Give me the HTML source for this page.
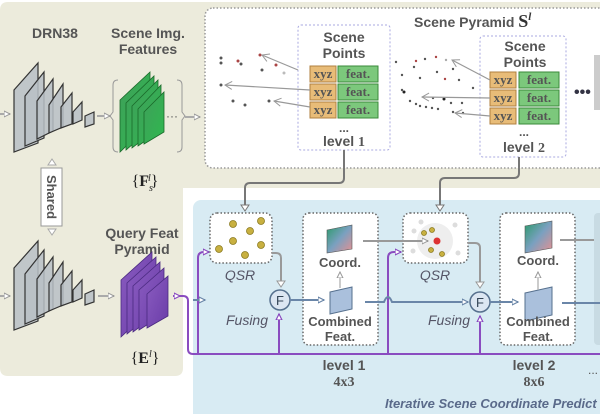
<!DOCTYPE html>
<html><head><meta charset="utf-8"><style>
body{margin:0;background:#fff;}
svg{display:block;font-family:"Liberation Sans",sans-serif;}
.b{font-weight:bold;fill:#555;}
</style></head><body>
<svg width="600" height="414" viewBox="0 0 600 414" xmlns="http://www.w3.org/2000/svg">
<defs>
<linearGradient id="g1" x1="0" y1="0" x2="1" y2="1"><stop offset="0" stop-color="#3f9f5a"/><stop offset="1" stop-color="#2fb84f"/></linearGradient>
<linearGradient id="p1" x1="0" y1="0" x2="1" y2="1"><stop offset="0" stop-color="#8a5cc0"/><stop offset="1" stop-color="#6a3ca8"/></linearGradient>
<linearGradient id="rb" x1="0" y1="0" x2="1" y2="1"><stop offset="0" stop-color="#2a9a6a"/><stop offset="0.5" stop-color="#7aa0c0"/><stop offset="1" stop-color="#e89090"/></linearGradient>
<marker id="ag" markerUnits="userSpaceOnUse" markerWidth="8" markerHeight="8" refX="6" refY="4" orient="auto"><path d="M0,1 L6,4 L0,7 Z" fill="#fff" stroke="#999"/></marker>
<marker id="ap" markerUnits="userSpaceOnUse" markerWidth="8" markerHeight="8" refX="6" refY="4" orient="auto"><path d="M0,1 L6,4 L0,7 Z" fill="#fff" stroke="#8a4cc0" stroke-width="1.2"/></marker>
<marker id="ab" markerUnits="userSpaceOnUse" markerWidth="8" markerHeight="8" refX="6" refY="4" orient="auto"><path d="M0,1 L6,4 L0,7 Z" fill="#fff" stroke="#6a86a8" stroke-width="1.2"/></marker>
<marker id="al" markerUnits="userSpaceOnUse" markerWidth="10" markerHeight="10" refX="8" refY="5" orient="auto"><path d="M1,1 L8,5 L1,9" fill="none" stroke="#999"/></marker>
</defs>
<path d="M8,2 H600 V188 H183 V368 Q183,376 175,376 H8 Q0,376 0,368 V10 Q0,2 8,2 Z" fill="#ecebdc"/>
<rect x="193" y="200" width="420" height="230" rx="8" fill="#d8ebf3"/>
<rect x="205" y="8" width="405" height="160" rx="8" fill="#fff" stroke="#999" stroke-width="1.5" stroke-dasharray="1.5 2"/>
<text x="414" y="27" font-size="14" font-weight="bold" fill="#555">Scene Pyramid <tspan font-family="Liberation Serif" font-size="18" fill="#333">S</tspan><tspan font-family="Liberation Serif" font-style="italic" font-size="11" dy="-7" fill="#333">l</tspan></text>
<rect x="298" y="25" width="92" height="125" rx="3" fill="#fff" stroke="#a9a9e0" stroke-dasharray="2 2"/>
<rect x="480" y="36" width="86" height="121" rx="3" fill="#fff" stroke="#a9a9e0" stroke-dasharray="2 2"/>
<g font-size="14" class="b" text-anchor="middle">
<text x="344" y="42" class="b">Scene</text><text x="344" y="58" class="b">Points</text>
<text x="525" y="51" class="b">Scene</text><text x="525" y="67" class="b">Points</text>
<text x="344" y="132" font-size="12">...</text><text x="344" y="146" class="b">level <tspan font-family="Liberation Serif">1</tspan></text>
<text x="524" y="136" font-size="12">...</text><text x="524" y="152" class="b">level <tspan font-family="Liberation Serif">2</tspan></text>
</g>
<g font-family="Liberation Serif" font-weight="bold" font-size="13" fill="#555" text-anchor="middle">
<rect x="310" y="66" width="26" height="16" fill="#e8bc78" stroke="#b08040"/><rect x="338" y="66" width="40" height="16" fill="#7cc87c" stroke="#3a8a3a"/>
<rect x="310" y="84" width="26" height="16" fill="#e8bc78" stroke="#b08040"/><rect x="338" y="84" width="40" height="16" fill="#7cc87c" stroke="#3a8a3a"/>
<rect x="310" y="102" width="26" height="16" fill="#e8bc78" stroke="#b08040"/><rect x="338" y="102" width="40" height="16" fill="#7cc87c" stroke="#3a8a3a"/>
<text x="323" y="78">xyz</text><text x="358" y="78">feat.</text>
<text x="323" y="96">xyz</text><text x="358" y="96">feat.</text>
<text x="323" y="114">xyz</text><text x="358" y="114">feat.</text>
<rect x="490" y="72" width="26" height="16" fill="#e8bc78" stroke="#b08040"/><rect x="519" y="72" width="40" height="16" fill="#7cc87c" stroke="#3a8a3a"/>
<rect x="490" y="90" width="26" height="16" fill="#e8bc78" stroke="#b08040"/><rect x="519" y="90" width="40" height="16" fill="#7cc87c" stroke="#3a8a3a"/>
<rect x="490" y="108" width="26" height="16" fill="#e8bc78" stroke="#b08040"/><rect x="519" y="108" width="40" height="16" fill="#7cc87c" stroke="#3a8a3a"/>
<text x="503" y="84">xyz</text><text x="539" y="84">feat.</text>
<text x="503" y="102">xyz</text><text x="539" y="102">feat.</text>
<text x="503" y="120">xyz</text><text x="539" y="120">feat.</text>
</g>
<text x="574" y="97" font-size="16" font-weight="bold" fill="#334">•••</text>
<rect x="594" y="55" width="6" height="55" fill="#ccc"/>
<g fill="#555">
<circle cx="221" cy="58" r="1.5"/><circle cx="221" cy="63" r="1.5"/><circle cx="238" cy="61" r="1.5" fill="#a44"/><circle cx="241" cy="64" r="1.5"/><circle cx="260" cy="55" r="1.5" fill="#a44"/><circle cx="262" cy="70" r="1.5"/><circle cx="276" cy="65" r="1.5" fill="#a44"/><circle cx="284" cy="73" r="1.5" fill="#bbb"/><circle cx="221" cy="85" r="1.5"/><circle cx="233" cy="101" r="1.5"/><circle cx="245" cy="105" r="1.5"/><circle cx="269" cy="101" r="1.5"/>
<circle cx="396" cy="62" r="1.2"/><circle cx="416" cy="61" r="1.2" fill="#a44"/><circle cx="425" cy="59" r="1.2"/><circle cx="436" cy="57" r="1.2" fill="#a44"/><circle cx="446" cy="60" r="1.2" fill="#aaa"/><circle cx="414" cy="67" r="1.2"/><circle cx="437" cy="72" r="1.2"/><circle cx="453" cy="69" r="1.2"/><circle cx="402" cy="75" r="1.2"/><circle cx="420" cy="78" r="1.2"/><circle cx="445" cy="79" r="1.2" fill="#a44"/><circle cx="459" cy="80" r="1.2"/><circle cx="402" cy="90" r="1.2"/><circle cx="404" cy="92" r="1.5" fill="#222"/><circle cx="473" cy="88" r="1.2"/><circle cx="410" cy="101" r="1.2"/><circle cx="416" cy="104" r="1.2"/><circle cx="420" cy="106" r="1.2"/><circle cx="426" cy="107" r="1.2"/><circle cx="432" cy="108" r="1.2"/><circle cx="438" cy="109" r="1.2"/><circle cx="444" cy="99" r="1.5" fill="#222"/><circle cx="451" cy="103" r="1.2"/><circle cx="462" cy="103" r="1.2"/><circle cx="433" cy="98" r="1.2"/><circle cx="453" cy="112" r="1.2"/><circle cx="463" cy="113" r="1.2"/>
</g>
<g stroke="#999" stroke-width="1.2" fill="none" marker-end="url(#al)">
<line x1="298" y1="70" x2="262" y2="55"/><line x1="310" y1="90" x2="225" y2="85"/><line x1="310" y1="107" x2="274" y2="101"/>
<line x1="490" y1="80" x2="452" y2="60"/><line x1="490" y1="98" x2="422" y2="97"/><line x1="490" y1="116" x2="455" y2="113"/>
</g>
<g stroke="#777" stroke-width="2" fill="none">
<path d="M344,150 V178 Q344,183 339,183 H250 Q245,183 245,188 V205"/>
<path d="M519,157 V173 Q519,178 514,178 H445 Q440,178 440,183 V205"/>
</g>
<path d="M241,205 L249,205 L245,211 Z" fill="#fff" stroke="#777"/>
<path d="M436,205 L444,205 L440,211 Z" fill="#fff" stroke="#777"/>
<g font-size="14" class="b" text-anchor="middle">
<text x="55" y="38">DRN38</text>
<text x="148" y="38">Scene Img.</text><text x="148" y="54">Features</text>
<text x="142" y="238">Query Feat</text><text x="142" y="254">Pyramid</text>
</g>
<text x="145" y="186" font-family="Liberation Serif" font-size="16" text-anchor="middle" fill="#222">{<tspan font-weight="bold">F</tspan><tspan font-size="10" font-style="italic" dy="5">s</tspan><tspan font-size="10" font-style="italic" dy="-10" dx="-5">l</tspan><tspan dy="5">}</tspan></text>
<text x="145" y="363" font-family="Liberation Serif" font-size="16" text-anchor="middle" fill="#222">{<tspan font-weight="bold">E</tspan><tspan font-size="10" font-style="italic" dy="-6">l</tspan><tspan dy="6">}</tspan></text>
<g stroke="#333" stroke-width="1.2" fill="#b8c0c6" fill-opacity="0.85">
<polygon points="14,90 38,63 38,143 14,152"/><polygon points="25,96 44,72 44,138 25,146"/><polygon points="37,101 53,79 53,131 37,139"/><polygon points="49,105 63,84 63,127 49,133"/><polygon points="61,107 72,93 72,124 61,128"/><polygon points="73,112 82,102 82,120 73,124"/><polygon points="85,116 94,112 94,124 85,127"/>
</g>
<g stroke="#333" stroke-width="1.2" fill="#b8c0c6" fill-opacity="0.85">
<polygon points="14,268 38,241 38,321 14,330"/><polygon points="25,274 44,250 44,316 25,324"/><polygon points="37,279 53,257 53,309 37,317"/><polygon points="49,283 63,262 63,305 49,311"/><polygon points="61,285 72,271 72,302 61,306"/><polygon points="73,290 82,280 82,298 73,302"/><polygon points="85,294 94,290 94,302 85,305"/>
</g>
<g stroke="#1a6a2a" stroke-width="0.8" fill="url(#g1)">
<polygon points="120,100 150,72 150,123 120,152"/><polygon points="126,103 154,76 154,126 126,150"/><polygon points="132,106 158,80 158,128 132,148"/><polygon points="138,109 161,85 161,130 138,146"/><polygon points="144,112 164,92 164,132 144,144"/>
</g>
<path d="M118,80 Q113,80 113,85 V112 L110,116 L113,120 V147 Q113,152 118,152" fill="none" stroke="#999"/>
<path d="M177,80 Q182,80 182,85 V112 L185,116 L182,120 V147 Q182,152 177,152" fill="none" stroke="#999"/>
<text x="166" y="120" font-size="12" fill="#555">···</text>
<g stroke="#4a2a80" stroke-width="0.8" fill="url(#p1)">
<polygon points="121,280 152,252 152,308 121,337"/><polygon points="127,283 156,257 156,310 127,334"/><polygon points="133,286 160,262 160,312 133,332"/><polygon points="139,290 164,268 164,314 139,330"/><polygon points="147,294 168,276 168,316 147,328"/>
</g>
<g stroke="#aaa" stroke-width="2" fill="none" marker-end="url(#ag)">
<line x1="0" y1="114" x2="10" y2="114"/><line x1="97" y1="116" x2="110" y2="116"/><line x1="185" y1="117" x2="200" y2="117"/>
<line x1="0" y1="296" x2="10" y2="296"/><line x1="98" y1="296" x2="114" y2="296"/>
</g>
<path d="M48,165 L56,165 L52,159 Z" fill="#fff" stroke="#aaa"/>
<path d="M48,229 L56,229 L52,235 Z" fill="#fff" stroke="#aaa"/>
<rect x="41" y="168" width="21" height="58" fill="#fff" stroke="#999"/>
<text transform="translate(47,197) rotate(90)" font-size="13" font-weight="bold" fill="#555" text-anchor="middle">Shared</text>
<g stroke="#8a4cc0" stroke-width="2" fill="none">
<path d="M173,296 H183 Q188,296 188,301 V349 Q188,354 193,354 H600"/>
<path d="M198,354 V258 Q198,252 204,252 H209" marker-end="url(#ap)"/>
<path d="M279,354 V314" marker-end="url(#ap)"/>
<path d="M388,354 V258 Q388,252 394,252 H401" marker-end="url(#ap)"/>
<path d="M480,354 V316" marker-end="url(#ap)"/>
<path d="M173,296 L180,296" marker-end="url(#ap)"/>
</g>
<rect x="210" y="213" width="62" height="50" rx="7" fill="#fff" stroke="#666" stroke-width="1.5" stroke-dasharray="1.5 2"/>
<g fill="#c8b040" stroke="#8a7a20" stroke-width="0.8">
<circle cx="233" cy="224" r="3.5"/><circle cx="261" cy="221" r="3.5"/><circle cx="250" cy="231" r="3.5"/><circle cx="233" cy="241" r="3.5"/><circle cx="261" cy="245" r="3.5"/><circle cx="219" cy="249" r="3.5"/><circle cx="245" cy="255" r="3.5"/>
</g>
<text x="240" y="280" font-size="14" font-style="italic" fill="#556" text-anchor="middle">QSR</text>
<path d="M272,253 H276 Q281,253 281,258 V281" stroke="#999" stroke-width="2" fill="none"/>
<path d="M277,281 L285,281 L281,287 Z" fill="#fff" stroke="#999"/>
<circle cx="280" cy="300" r="10" fill="#dce6f2" stroke="#56708e" stroke-width="1.5"/>
<text x="280" y="305" font-size="13" fill="#345" text-anchor="middle">F</text>
<text x="247" y="325" font-size="14" font-style="italic" fill="#556" text-anchor="middle">Fusing</text>
<rect x="403" y="213" width="65" height="50" rx="7" fill="#fff" stroke="#666" stroke-width="1.5" stroke-dasharray="1.5 2"/>
<circle cx="435" cy="241" r="18" fill="#eee"/>
<g fill="#ddd"><circle cx="414" cy="231" r="2.5"/><circle cx="413" cy="251" r="2.5"/><circle cx="458" cy="253" r="2.5"/><circle cx="421" cy="222" r="2.5"/><circle cx="455" cy="225" r="2.5"/></g>
<g fill="#c8b040" stroke="#8a7a20" stroke-width="0.8"><circle cx="424" cy="233" r="2.5"/><circle cx="432" cy="230" r="2.5"/><circle cx="431" cy="250" r="2.5"/><circle cx="442" cy="254" r="2.5"/></g>
<circle cx="437" cy="241" r="3.5" fill="#d33"/>
<text x="435" y="280" font-size="14" font-style="italic" fill="#556" text-anchor="middle">QSR</text>
<path d="M468,243 H475 Q480,243 480,248 V282" stroke="#999" stroke-width="2" fill="none"/>
<path d="M476,282 L484,282 L480,288 Z" fill="#fff" stroke="#999"/>
<circle cx="480" cy="302" r="10" fill="#dce6f2" stroke="#56708e" stroke-width="1.5"/>
<text x="480" y="307" font-size="13" fill="#345" text-anchor="middle">F</text>
<text x="449" y="325" font-size="14" font-style="italic" fill="#556" text-anchor="middle">Fusing</text>
<rect x="303" y="213" width="75" height="132" rx="6" fill="#fff" stroke="#666" stroke-width="1.5" stroke-dasharray="1.5 2"/>
<rect x="500" y="213" width="75" height="132" rx="6" fill="#fff" stroke="#666" stroke-width="1.5" stroke-dasharray="1.5 2"/>
<polygon points="327,230 352,225 352,249 327,253" fill="url(#rb)" stroke="#555" stroke-width="0.6"/>
<polygon points="525,226 552,221 552,248 525,253" fill="url(#rb)" stroke="#555" stroke-width="0.6"/>
<polygon points="330,292 352,287 352,309 330,314" fill="#aac0dc" stroke="#56708e"/>
<polygon points="525,293 552,287 552,315 525,321" fill="#aac0dc" stroke="#56708e"/>
<g font-size="13" class="b" text-anchor="middle">
<text x="340" y="267">Coord.</text><text x="340" y="326">Combined</text><text x="340" y="341">Feat.</text>
<text x="538" y="265">Coord.</text><text x="538" y="326">Combined</text><text x="538" y="341">Feat.</text>
<text x="344" y="370" font-size="14">level 1</text><text x="534" y="370" font-size="14">level 2</text>
</g>
<text x="344" y="386" font-family="Liberation Serif" font-weight="bold" font-size="14" fill="#555" text-anchor="middle">4x3</text>
<text x="534" y="386" font-family="Liberation Serif" font-weight="bold" font-size="14" fill="#555" text-anchor="middle">8x6</text>
<text x="588" y="374" font-size="12" fill="#555">...</text>
<g stroke="#aaa" stroke-width="1.2" fill="none" marker-end="url(#ag)"><line x1="340" y1="288" x2="340" y2="272"/><line x1="538" y1="290" x2="538" y2="272"/></g>
<path d="M363,241 H428" stroke="#999" stroke-width="2" fill="none" marker-end="url(#ag)"/>
<path d="M560,240 H600" stroke="#999" stroke-width="2"/>
<rect x="594" y="213" width="10" height="132" rx="4" fill="#c8dbe3"/>
<g stroke="#6a86a8" stroke-width="2" fill="none">
<path d="M193,300 H205" marker-end="url(#ab)"/>
<path d="M290,300 H324" marker-end="url(#ab)"/>
<path d="M365,302 H384 Q388,292 392,302 H468" marker-end="url(#ab)"/>
<path d="M490,302 H518" marker-end="url(#ab)"/>
<path d="M562,303 H600"/>
</g>
<text x="385" y="408" font-size="13" font-weight="bold" font-style="italic" fill="#5a6a8a">Iterative Scene Coordinate Predict</text>
</svg>
</body></html>
